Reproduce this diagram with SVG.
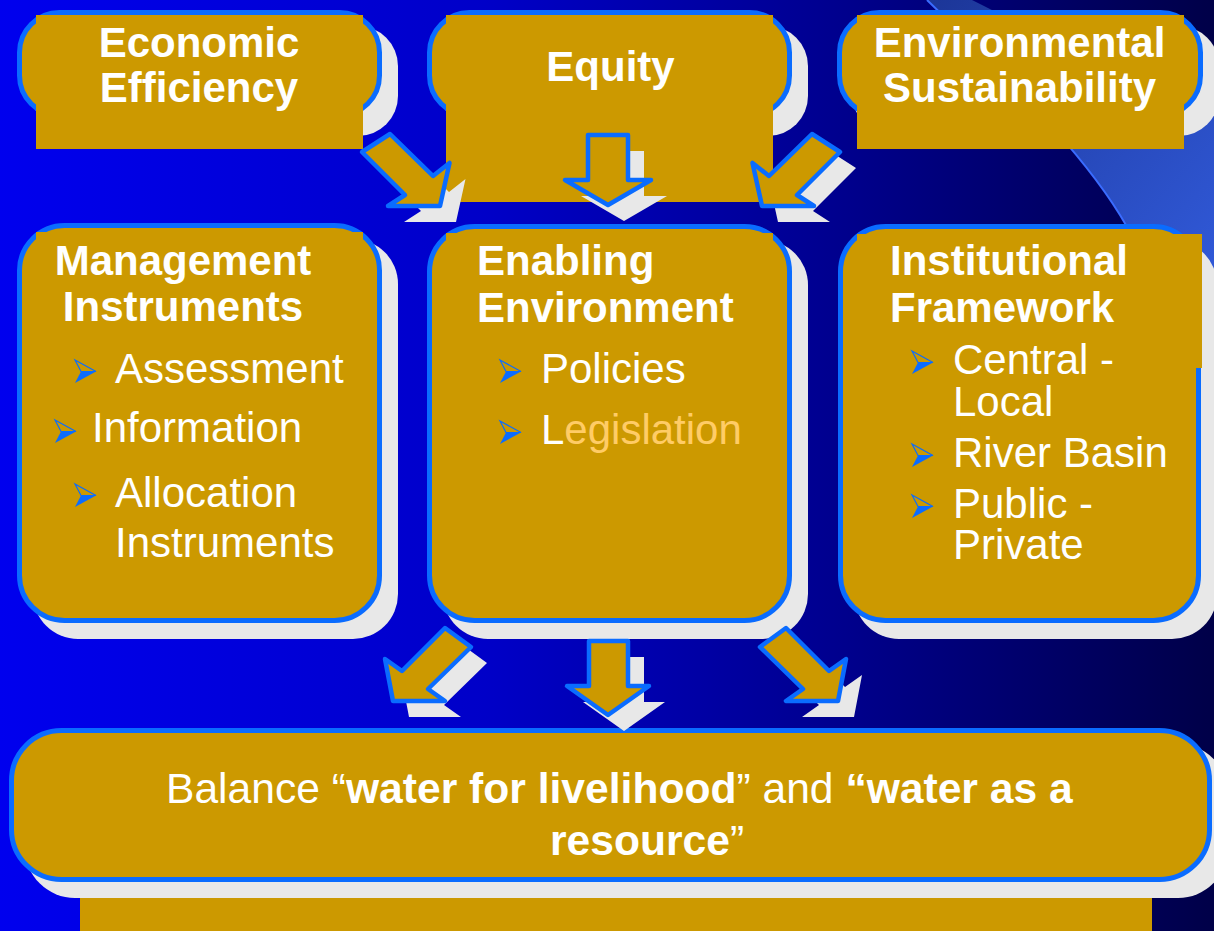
<svg xmlns="http://www.w3.org/2000/svg" xmlns:xlink="http://www.w3.org/1999/xlink" width="1214" height="931" viewBox="0 0 1214 931">
  <defs>
    <linearGradient id="bg" x1="0" y1="0" x2="1214" y2="0" gradientUnits="userSpaceOnUse">
      <stop offset="0" stop-color="#0000ee"/>
      <stop offset="0.4" stop-color="#0000c8"/>
      <stop offset="0.7" stop-color="#00008c"/>
      <stop offset="1" stop-color="#000048"/>
    </linearGradient>
    <linearGradient id="band" x1="930" y1="0" x2="1214" y2="260" gradientUnits="userSpaceOnUse">
      <stop offset="0" stop-color="#1c3698"/>
      <stop offset="1" stop-color="#3058d6"/>
    </linearGradient>
    <g id="bul">
      <path d="M0,0 L21,11.5 L6,11.5 Z" fill="#cc9900" stroke="#0a6cff" stroke-width="1.2"/>
      <path d="M6,11.5 L21,11.5 L0,23 Z" fill="#0a6cff"/>
    </g>
    <style>
      .shadow { fill: #e8e8e8; }
      .box { fill: #cc9900; stroke: #0a6cff; stroke-width: 5; }
      .tb { fill: #cc9900; }
      .h { font-family: "Liberation Sans", Arial, sans-serif; font-weight: bold; font-size: 42px; fill: #ffffff; }
      .t { font-family: "Liberation Sans", Arial, sans-serif; font-size: 42px; fill: #ffffff; }
      .b { font-weight: bold; }
      .arrow { fill: #cc9900; stroke: #0a6cff; stroke-width: 4.5; stroke-linejoin: round; }
      .ash { fill: #e8e8e8; }
    </style>
  </defs>

  <!-- background -->
  <rect x="0" y="0" width="1214" height="931" fill="url(#bg)"/>
  <path d="M927,0 C1010,80 1080,150 1120,215 C1160,280 1190,350 1214,420 L1214,105 C1130,70 1040,35 972,0 Z" fill="url(#band)"/>
  <path d="M927,0 C1010,80 1080,150 1120,215 C1160,280 1190,350 1214,420" fill="none" stroke="#3a6cff" stroke-width="2"/>

  <!-- top row -->
  <g id="economic-efficiency">
    <rect class="shadow" x="33" y="26" width="365" height="110" rx="40"/>
    <rect class="box" x="19.5" y="12.5" width="360" height="103" rx="40"/>
    <rect class="tb" x="36" y="15" width="327" height="134"/>
    <text class="h" x="199" y="57" text-anchor="middle">Economic</text>
    <text class="h" x="199" y="102" text-anchor="middle">Efficiency</text>
  </g>
  <g id="equity">
    <rect class="shadow" x="443" y="26" width="365" height="110" rx="40"/>
    <rect class="box" x="429.5" y="12.5" width="360" height="103" rx="40"/>
    <rect class="tb" x="446" y="15" width="327" height="187"/>
    <text class="h" x="610.5" y="81" text-anchor="middle">Equity</text>
  </g>
  <g id="environmental-sustainability">
    <rect class="shadow" x="853" y="26" width="366" height="110" rx="40"/>
    <rect class="box" x="839.5" y="12.5" width="361" height="103" rx="40"/>
    <rect class="tb" x="857" y="15" width="327" height="134"/>
    <text class="h" x="1019.5" y="57" text-anchor="middle">Environmental</text>
    <text class="h" x="1019.5" y="102" text-anchor="middle">Sustainability</text>
  </g>

  <!-- middle row -->
  <g id="management-instruments">
    <rect class="shadow" x="33" y="239" width="365" height="400" rx="45"/>
    <rect class="box" x="19.5" y="225.5" width="360" height="395" rx="45"/>
    <rect class="tb" x="36" y="232" width="327" height="350"/>
    <text class="h" x="183" y="275" text-anchor="middle">Management</text>
    <text class="h" x="183" y="321" text-anchor="middle">Instruments</text>
    <use xlink:href="#bul" x="75" y="360"/>
    <text class="t" x="115" y="383">Assessment</text>
    <use xlink:href="#bul" x="55" y="420"/>
    <text class="t" x="92" y="442">Information</text>
    <use xlink:href="#bul" x="75" y="484"/>
    <text class="t" x="115" y="507">Allocation</text>
    <text class="t" x="115" y="557">Instruments</text>
  </g>
  <g id="enabling-environment">
    <rect class="shadow" x="443" y="240" width="365" height="399" rx="45"/>
    <rect class="box" x="429.5" y="226.5" width="360" height="394" rx="45"/>
    <rect class="tb" x="446" y="233" width="327" height="350"/>
    <text class="h" x="477" y="275">Enabling</text>
    <text class="h" x="477" y="322">Environment</text>
    <use xlink:href="#bul" x="500" y="360"/>
    <text class="t" x="541" y="383">Policies</text>
    <use xlink:href="#bul" x="500" y="421"/>
    <text class="t" x="541" y="444">L<tspan fill="#ffcc66">egislation</tspan></text>
  </g>
  <g id="institutional-framework">
    <rect class="shadow" x="854" y="240" width="363" height="399" rx="45"/>
    <rect class="box" x="840.5" y="226.5" width="358" height="394" rx="45"/>
    <rect class="tb" x="857" y="234" width="345" height="134"/>
    <text class="h" x="890" y="275">Institutional</text>
    <text class="h" x="890" y="322">Framework</text>
    <use xlink:href="#bul" x="912" y="351"/>
    <text class="t" x="953" y="374">Central -</text>
    <text class="t" x="953" y="416">Local</text>
    <use xlink:href="#bul" x="912" y="444"/>
    <text class="t" x="953" y="467">River Basin</text>
    <use xlink:href="#bul" x="912" y="495"/>
    <text class="t" x="953" y="518">Public -</text>
    <text class="t" x="953" y="559">Private</text>
  </g>

  <!-- bottom -->
  <g id="balance">
    <rect class="shadow" x="25" y="744" width="1203" height="154" rx="50"/>
    <rect class="tb" x="80" y="898" width="1072" height="33"/>
    <rect class="box" x="11.5" y="730.5" width="1198" height="149" rx="50"/>
    <text class="t" x="166" y="803" style="font-size:42.6px">Balance “<tspan class="b">water for livelihood</tspan>” and <tspan class="b">“water as a</tspan></text>
    <text class="t" x="550" y="855" style="font-size:42.6px"><tspan class="b">resource</tspan>”</text>
  </g>

  <!-- connectors -->
  <g id="connectors">
    <g transform="translate(16,16)">
      <path class="ash" d="M362,152 L390,134 L433,176 L449.5,163 L440,206 L388,206 L405,195 Z"/>
      <path class="ash" d="M588,135 L628,135 L628,180 L651,180 L608,205 L565,180 L588,180 Z"/>
      <path class="ash" d="M840,152 L812,134 L769,176 L752.5,163 L762,206 L814,206 L797,195 Z"/>
      <path class="ash" d="M445,628 L471,647 L428,689 L445,701 L393,701 L385,659 L402,671 Z"/>
      <path class="ash" d="M589,641 L628,641 L628,686 L649,686 L608,715 L567,686 L589,686 Z"/>
      <path class="ash" d="M786,628 L760,647 L803,689 L786,701 L838,701 L846,659 L829,671 Z"/>
    </g>
    <path class="arrow" d="M362,152 L390,134 L433,176 L449.5,163 L440,206 L388,206 L405,195 Z"/>
    <path class="arrow" d="M588,135 L628,135 L628,180 L651,180 L608,205 L565,180 L588,180 Z"/>
    <path class="arrow" d="M840,152 L812,134 L769,176 L752.5,163 L762,206 L814,206 L797,195 Z"/>
    <path class="arrow" d="M445,628 L471,647 L428,689 L445,701 L393,701 L385,659 L402,671 Z"/>
    <path class="arrow" d="M589,641 L628,641 L628,686 L649,686 L608,715 L567,686 L589,686 Z"/>
    <path class="arrow" d="M786,628 L760,647 L803,689 L786,701 L838,701 L846,659 L829,671 Z"/>
  </g>
</svg>
